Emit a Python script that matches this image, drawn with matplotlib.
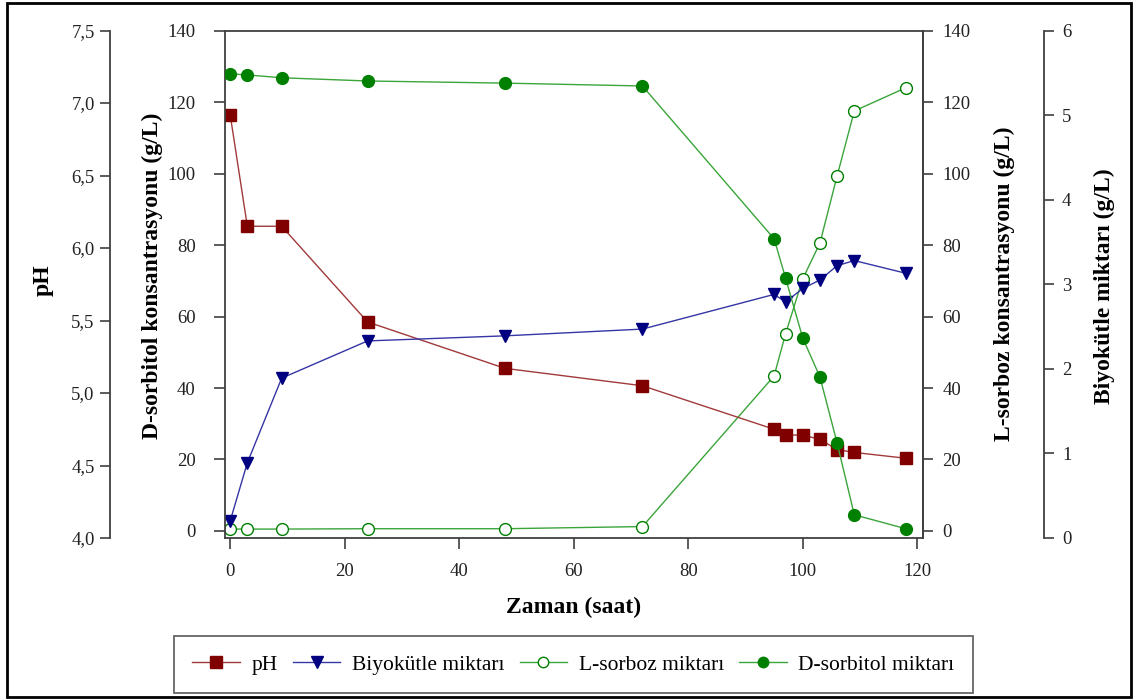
import matplotlib
matplotlib.use("Agg")
import matplotlib.pyplot as plt
from matplotlib.lines import Line2D
from matplotlib.patches import Rectangle

plt.rcParams['font.family'] = ['Liberation Serif', 'DejaVu Serif']

# ---- data ----
time_h = [0, 3, 9, 24, 48, 72, 95, 97, 100, 103, 106, 109, 118]
ph = [6.92, 6.15, 6.15, 5.49, 5.17, 5.05, 4.75, 4.71, 4.71, 4.68, 4.61, 4.59, 4.55]
biomass = [0.20, 0.89, 1.89, 2.33, 2.39, 2.47, 2.88, 2.79, 2.95, 3.05, 3.22, 3.28, 3.13]
l_sorbose = [0.5, 0.5, 0.5, 0.6, 0.6, 1.2, 43.4, 55.2, 70.6, 80.6, 99.4, 117.6, 124.1]
d_sorbitol = [128.0, 127.7, 126.9, 126.0, 125.4, 124.6, 81.8, 70.8, 54.0, 43.1, 24.6, 4.5, 0.6]

x_ticks = [0, 20, 40, 60, 80, 100, 120]
conc_ticks = [0, 20, 40, 60, 80, 100, 120, 140]
ph_ticks = [4.0, 4.5, 5.0, 5.5, 6.0, 6.5, 7.0, 7.5]
bio_ticks = [0, 1, 2, 3, 4, 5, 6]

# ---- styles ----
W, H = 1134, 700
fig = plt.figure(figsize=(W / 100, H / 100), dpi=100)
spine_c = '#404040'
tick_fs = 13.5
label_fs = 17

L, R, B, T = 225, 923, 538, 30.5
ax = fig.add_axes([L / W, 1 - B / H, (R - L) / W, (B - T) / H])
ax.set_zorder(3)
ax.patch.set_visible(False)

ax_r = ax.twinx()      # L-sorboz
ax_ph = ax.twinx()     # pH
ax_bio = ax.twinx()    # biomass
for a in (ax_r, ax_ph, ax_bio):
    a.set_zorder(2)

ph_red = '#800000'
ph_line = '#A03A3A'
bio_blue = '#000080'
bio_line = '#3535A5'
green = '#008000'
green_line = '#3AA53A'

ax_ph.plot(time_h, ph, color=ph_line, lw=1.0, marker='s', ms=8.5,
           mfc=ph_red, mec=ph_red, zorder=3)
ax_bio.plot(time_h, biomass, color=bio_line, lw=1.0, marker='v', ms=9,
            mfc=bio_blue, mec=bio_blue, zorder=3)
ax_r.plot(time_h, l_sorbose, color=green_line, lw=1.0, marker='o', ms=8.5,
          mfc='white', mec=green, mew=1.0, zorder=3)
ax.plot(time_h, d_sorbitol, color=green_line, lw=1.0, marker='o', ms=8.5,
        mfc=green, mec=green, zorder=3)

ax.set_xlim(-0.9, 121)
ax.set_ylim(-2, 140.14)
ax_r.set_ylim(-2, 140.14)
ax_ph.set_ylim(4.0, 7.5)
ax_bio.set_ylim(0, 6)

ax.set_xticks(x_ticks)
ax.set_xticklabels([str(v) for v in x_ticks])
ax.set_yticks(conc_ticks)
ax.set_yticklabels([str(v) for v in conc_ticks])
ax_r.set_yticks(conc_ticks)
ax_r.set_yticklabels([str(v) for v in conc_ticks])
ax_ph.set_yticks(ph_ticks)
ax_ph.set_yticklabels([f"{v:.1f}".replace('.', ',') for v in ph_ticks])
ax_bio.set_yticks(bio_ticks)
ax_bio.set_yticklabels([str(v) for v in bio_ticks])

# spines
for a in (ax, ax_r, ax_ph, ax_bio):
    for s in a.spines.values():
        s.set_color(spine_c)
        s.set_linewidth(1.3)

ax_ph.spines['right'].set_visible(False)
ax_ph.spines['top'].set_visible(False)
ax_ph.spines['bottom'].set_visible(False)
ax_ph.spines['left'].set_visible(True)
ax_ph.spines['left'].set_position(('axes', (110 - L) / (R - L)))
ax_ph.yaxis.set_ticks_position('left')
ax_ph.yaxis.set_label_position('left')

ax_bio.spines['left'].set_visible(False)
ax_bio.spines['top'].set_visible(False)
ax_bio.spines['bottom'].set_visible(False)
ax_bio.spines['right'].set_position(('axes', (1044 - L) / (R - L)))

ax_r.spines['left'].set_visible(False)
ax_r.spines['top'].set_visible(False)
ax_r.spines['bottom'].set_visible(False)

ax.tick_params(axis='x', direction='out', length=8, width=1.2, color=spine_c,
               labelsize=tick_fs, labelcolor='#222222', pad=10)
ax.tick_params(axis='y', direction='out', length=8, width=1.2, color=spine_c,
               labelsize=tick_fs, labelcolor='#222222', pad=13)
ax_r.tick_params(axis='y', direction='out', length=7, width=1.2, color=spine_c,
                 labelsize=tick_fs, labelcolor='#222222', pad=7)
ax_ph.tick_params(axis='y', direction='out', length=7, width=1.2, color=spine_c,
                  labelsize=tick_fs, labelcolor='#222222', pad=4)
ax_bio.tick_params(axis='y', direction='out', length=7, width=1.2, color=spine_c,
                   labelsize=tick_fs, labelcolor='#222222', pad=6)

# axis labels (centered on given pixel positions)
def ycoord(py):
    return (B - py) / (B - T)

def xcoord(px):
    return (px - L) / (R - L)

ax.set_xlabel('Zaman (saat)', fontsize=label_fs, fontweight='bold')
ax.xaxis.label.set_va('center')
ax.xaxis.set_label_coords(0.5, ycoord(607))

ax.set_ylabel('D-sorbitol konsantrasyonu (g/L)', fontsize=label_fs, fontweight='bold')
ax.yaxis.label.set_va('center')
ax.yaxis.set_label_coords(xcoord(152), ycoord(276))

ax_r.set_ylabel('L-sorboz konsantrasyonu (g/L)', fontsize=label_fs, fontweight='bold')
ax_r.yaxis.label.set_va('center')
ax_r.yaxis.set_label_coords(xcoord(1004), ycoord(284))

ax_ph.set_ylabel('pH', fontsize=label_fs, fontweight='bold')
ax_ph.yaxis.label.set_va('center')
ax_ph.yaxis.set_label_coords(xcoord(43), ycoord(280))

ax_bio.set_ylabel('Biyokütle miktarı (g/L)', fontsize=label_fs, fontweight='bold')
ax_bio.yaxis.label.set_va('center')
ax_bio.yaxis.set_label_coords(xcoord(1104), ycoord(286))

# legend
handles = [
    Line2D([], [], color=ph_line, lw=1.0, marker='s', ms=8, mfc=ph_red, mec=ph_red),
    Line2D([], [], color=bio_line, lw=1.0, marker='v', ms=8, mfc=bio_blue, mec=bio_blue),
    Line2D([], [], color=green_line, lw=1.0, marker='o', ms=7.5, mfc='white', mec=green),
    Line2D([], [], color=green_line, lw=1.0, marker='o', ms=7.5, mfc=green, mec=green),
]
labels = ['pH', 'Biyokütle miktarı', 'L-sorboz miktarı', 'D-sorbitol miktarı']
leg = fig.legend(handles, labels, loc='center', ncol=4,
                 bbox_to_anchor=(573.5 / W, 1 - 664.5 / H),
                 fontsize=15.5, frameon=True, fancybox=False,
                 handlelength=2.2, handletextpad=0.55, columnspacing=0.7,
                 borderpad=0.85, edgecolor='#404040')
leg.get_frame().set_linewidth(1.3)

# outer frame
fig.patches.append(Rectangle((7 / W, 3 / H), (1131 - 7) / W, (697 - 3) / H,
                             transform=fig.transFigure, fill=False,
                             edgecolor='black', linewidth=2.0))

fig.savefig('out.png', dpi=100)
